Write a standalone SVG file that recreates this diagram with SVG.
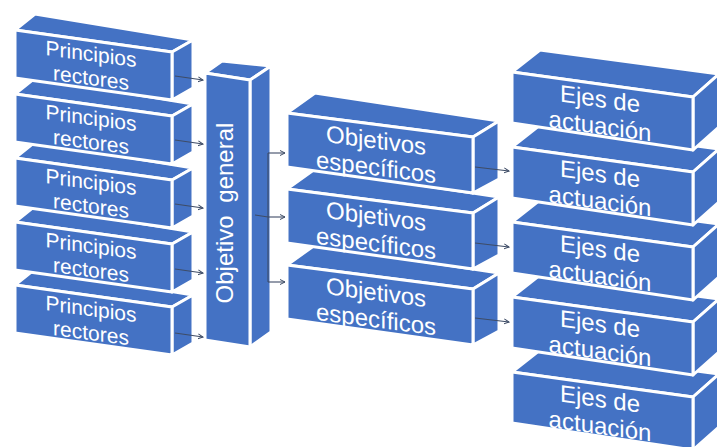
<svg xmlns="http://www.w3.org/2000/svg" xmlns:xlink="http://www.w3.org/1999/xlink" width="717" height="447" viewBox="0 0 717 447">
<style>
.face{fill:#4472C4;stroke:#FFFFFF;stroke-width:3;stroke-linejoin:round}
.t{font-family:"Liberation Sans",Arial,sans-serif;fill:#FFFFFF;text-anchor:middle}
.pr{font-size:21px}
.big{font-size:24px}
.con{fill:none;stroke:#3E4C66;stroke-width:1.1}
</style>
<defs>
<marker id="arr" markerUnits="userSpaceOnUse" markerWidth="8" markerHeight="8" refX="5" refY="3" orient="auto">
<path d="M0,0.5 L5,3 L0,5.5" fill="none" stroke="#3E4C66" stroke-width="1"/>
</marker>
<g id="prBox">
<polygon class="face" points="0,0 20,-16 178,10 157,22"/>
<polygon class="face" points="157,22 178,10 178,58 157,70"/>
<polygon class="face" points="0,0 157,22 157,70 0,48"/>
</g>
<g id="oeBox">
<polygon class="face" points="0,0 28,-20 212,8 186,24"/>
<polygon class="face" points="186,24 212,8 212,66 186,80"/>
<polygon class="face" points="0,0 186,24 186,80 0,54"/>
</g>
<g id="eaBox">
<polygon class="face" points="0,0 28,-22 207,2 181,25"/>
<polygon class="face" points="181,25 207,2 207,55 181,78"/>
<polygon class="face" points="0,0 181,25 181,78 0,51"/>
</g>
</defs>
<rect width="717" height="447" fill="#FFFFFF"/>

<g id="pr5" transform="translate(15,285)">
<use xlink:href="#prBox" href="#prBox"/>
<g transform="matrix(1,0.134,0,1,0,0)"><text class="t pr" x="76" y="21">Principios</text><text class="t pr" x="76" y="45">rectores</text></g>
</g>
<g id="pr4" transform="translate(15,222)">
<use xlink:href="#prBox" href="#prBox"/>
<g transform="matrix(1,0.134,0,1,0,0)"><text class="t pr" x="76" y="21">Principios</text><text class="t pr" x="76" y="45">rectores</text></g>
</g>
<g id="pr3" transform="translate(15,158)">
<use xlink:href="#prBox" href="#prBox"/>
<g transform="matrix(1,0.134,0,1,0,0)"><text class="t pr" x="76" y="21">Principios</text><text class="t pr" x="76" y="45">rectores</text></g>
</g>
<g id="pr2" transform="translate(15,94)">
<use xlink:href="#prBox" href="#prBox"/>
<g transform="matrix(1,0.134,0,1,0,0)"><text class="t pr" x="76" y="21">Principios</text><text class="t pr" x="76" y="45">rectores</text></g>
</g>
<g id="pr1" transform="translate(15,30)">
<use xlink:href="#prBox" href="#prBox"/>
<g transform="matrix(1,0.134,0,1,0,0)"><text class="t pr" x="76" y="21">Principios</text><text class="t pr" x="76" y="45">rectores</text></g>
</g>

<g id="og">
<polygon class="face" points="205,73 222,61 271,66 250,80"/>
<polygon class="face" points="250,80 271,66 271,332 250,347"/>
<polygon class="face" points="205,73 250,80 250,347 205,340"/>
<text class="t big" transform="translate(233,213) rotate(-90)" x="0" y="0" word-spacing="6">Objetivo general</text>
</g>

<g id="oe3" transform="translate(287,265)">
<use xlink:href="#oeBox" href="#oeBox"/>
<g transform="matrix(1,0.13,0,1,0,0)"><text class="t big" x="89" y="24">Objetivos</text><text class="t big" x="89" y="51">específicos</text></g>
</g>
<g id="oe2" transform="translate(287,189)">
<use xlink:href="#oeBox" href="#oeBox"/>
<g transform="matrix(1,0.13,0,1,0,0)"><text class="t big" x="89" y="24">Objetivos</text><text class="t big" x="89" y="51">específicos</text></g>
</g>
<g id="oe1" transform="translate(287,113)">
<use xlink:href="#oeBox" href="#oeBox"/>
<g transform="matrix(1,0.13,0,1,0,0)"><text class="t big" x="89" y="24">Objetivos</text><text class="t big" x="89" y="51">específicos</text></g>
</g>

<g id="ea5" transform="translate(512,372)">
<use xlink:href="#eaBox" href="#eaBox"/>
<g transform="matrix(1,0.138,0,1,0,0)"><text class="t big" x="88" y="23">Ejes de</text><text class="t big" x="88" y="50">actuación</text></g>
</g>
<g id="ea4" transform="translate(512,297)">
<use xlink:href="#eaBox" href="#eaBox"/>
<g transform="matrix(1,0.138,0,1,0,0)"><text class="t big" x="88" y="23">Ejes de</text><text class="t big" x="88" y="50">actuación</text></g>
</g>
<g id="ea3" transform="translate(512,222)">
<use xlink:href="#eaBox" href="#eaBox"/>
<g transform="matrix(1,0.138,0,1,0,0)"><text class="t big" x="88" y="23">Ejes de</text><text class="t big" x="88" y="50">actuación</text></g>
</g>
<g id="ea2" transform="translate(512,147)">
<use xlink:href="#eaBox" href="#eaBox"/>
<g transform="matrix(1,0.138,0,1,0,0)"><text class="t big" x="88" y="23">Ejes de</text><text class="t big" x="88" y="50">actuación</text></g>
</g>
<g id="ea1" transform="translate(512,72)">
<use xlink:href="#eaBox" href="#eaBox"/>
<g transform="matrix(1,0.138,0,1,0,0)"><text class="t big" x="88" y="23">Ejes de</text><text class="t big" x="88" y="50">actuación</text></g>
</g>

<g id="connectors">
<path class="con" marker-end="url(#arr)" d="M175,76 L203,80"/>
<path class="con" marker-end="url(#arr)" d="M175,140 L203,144"/>
<path class="con" marker-end="url(#arr)" d="M175,204 L203,208"/>
<path class="con" marker-end="url(#arr)" d="M175,269 L203,273"/>
<path class="con" marker-end="url(#arr)" d="M175,333 L203,337"/>
<path class="con" d="M255,215 L268,217 M268,153 L268,282"/>
<path class="con" marker-end="url(#arr)" d="M268,153 L285,153"/>
<path class="con" marker-end="url(#arr)" d="M268,217 L285,217"/>
<path class="con" marker-end="url(#arr)" d="M268,282 L285,282"/>
<path class="con" marker-end="url(#arr)" d="M475,167 L509,171"/>
<path class="con" marker-end="url(#arr)" d="M475,243 L509,247"/>
<path class="con" marker-end="url(#arr)" d="M475,318 L509,322"/>
</g>
</svg>
